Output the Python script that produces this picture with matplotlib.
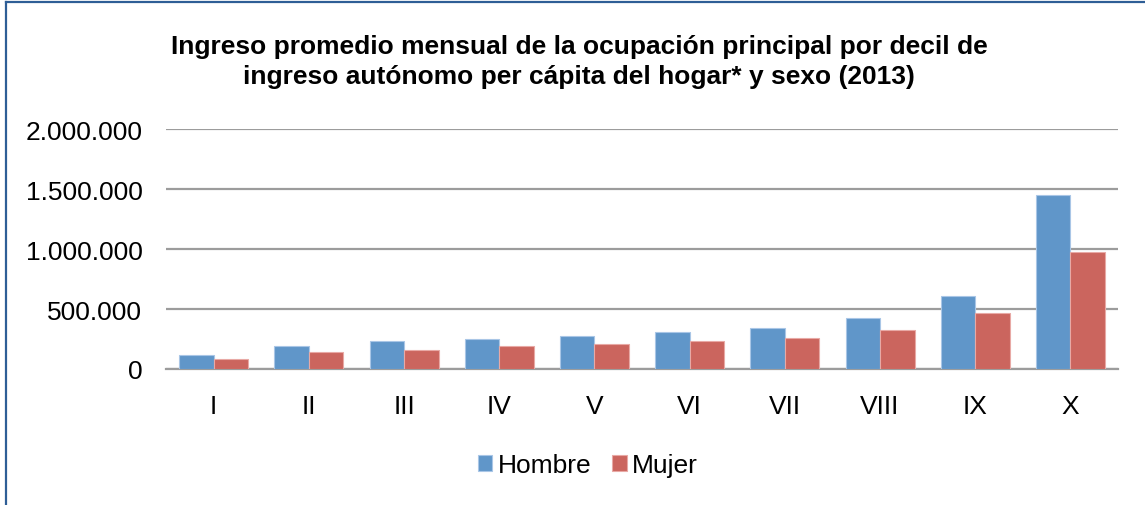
import matplotlib.pyplot as plt
import numpy as np
from matplotlib.lines import Line2D

deciles = ["I", "II", "III", "IV", "V", "VI", "VII", "VIII", "IX", "X"]
hombre = [120000, 195000, 231000, 247000, 275000, 306000, 345000, 425000, 612000, 1453000]
mujer = [81000, 139000, 162000, 189000, 212000, 231000, 258000, 322000, 464000, 978000]
yticks = [0, 500000, 1000000, 1500000, 2000000]
ytick_labels = ["0", "500.000", "1.000.000", "1.500.000", "2.000.000"]

plt.rcParams['font.family'] = ['Liberation Sans', 'DejaVu Sans']

fig = plt.figure(figsize=(11.45, 5.06), dpi=100)
ax = fig.add_axes([0.145, 0.2688, 0.8315, 0.4742])

x = np.arange(len(deciles))
w = 0.362
ax.bar(x - w/2, hombre, w, color="#6096C9", edgecolor="#A9C6E6", linewidth=0.8, label="Hombre", zorder=3)
ax.bar(x + w/2, mujer, w, color="#CB655E", edgecolor="#E8A9A5", linewidth=0.8, label="Mujer", zorder=3)

ax.set_xlim(-0.5, len(deciles) - 0.5)
ax.set_ylim(0, 2000000)
ax.set_yticks(yticks)
ax.set_yticklabels(ytick_labels, fontsize=19)
ax.set_xticks(x)
ax.set_xticklabels(deciles, fontsize=19)
ax.tick_params(axis='y', length=0, pad=17)
ax.tick_params(axis='x', length=0, pad=18)
ax.grid(axis='y', color="#9C9C9C", linewidth=1.6, zorder=0)
for s in ['top', 'right', 'left']:
    ax.spines[s].set_visible(False)
ax.spines['bottom'].set_color("#9C9C9C")
ax.spines['bottom'].set_linewidth(1.6)

fig.text(0.506, 0.877, "Ingreso promedio mensual de la ocupación principal por decil de\n"
         "ingreso autónomo per cápita del hogar* y sexo (2013)",
         ha='center', va='center', fontsize=19, fontweight='bold',
         family=['Liberation Sans Narrow', 'Liberation Sans'], linespacing=1.3)

ax.legend(loc='center', bbox_to_anchor=(0.443, -0.40), ncol=2, frameon=False,
          fontsize=19, handlelength=0.55, handleheight=0.55, handletextpad=0.2,
          columnspacing=0.8)

# frame lines of the source document
fig.add_artist(Line2D([6/1145, 6/1145], [0, 1 - 3/506], color="#2E5E96", linewidth=1.6))
fig.add_artist(Line2D([6/1145, 1], [1 - 3/506, 1 - 3/506], color="#2E5E96", linewidth=1.6))

fig.savefig("out.png", dpi=100)
